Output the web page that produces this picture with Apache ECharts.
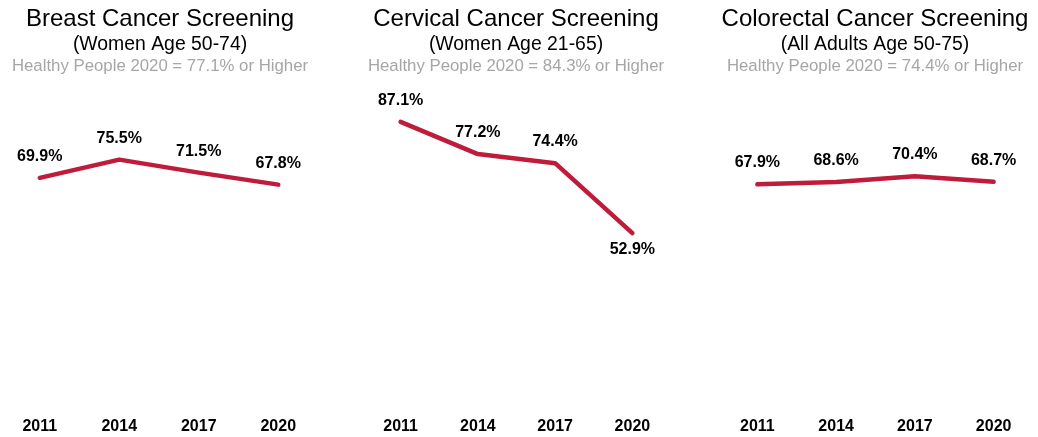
<!DOCTYPE html>
<html>
<head>
<meta charset="utf-8">
<script src="https://cdn.jsdelivr.net/npm/echarts@6/dist/echarts.min.js"></script>
<style>
  html, body { margin: 0; padding: 0; background: #fff; }
  #chart { width: 1038px; height: 437px; }
</style>
</head>
<body>
<div id="chart"></div>
<script>
// Survey years shared by all three panels
const years = ['2011', '2014', '2017', '2020'];

// Screening rates (%) per year
const breast = [69.9, 75.5, 71.5, 67.8];
const cervical = [87.1, 77.2, 74.4, 52.9];
const colorectal = [67.9, 68.6, 70.4, 68.7];

const titles = ['Breast Cancer Screening', 'Cervical Cancer Screening', 'Colorectal Cancer Screening'];
const subtitles = ['(Women Age 50-74)', '(Women Age 21-65)', '(All Adults Age 50-75)'];
const targets = ['Healthy People 2020 = 77.1% or Higher', 'Healthy People 2020 = 84.3% or Higher', 'Healthy People 2020 = 74.4% or Higher'];

const seriesData = [breast, cervical, colorectal];
// label placement per point: above, except the last cervical value sits below
const labelPos = [
  ['top', 'top', 'top', 'top'],
  ['top', 'top', 'top', 'bottom'],
  ['top', 'top', 'top', 'top']
];

const panels = [
  { left: 0, width: 318, center: 160 },
  { left: 362, width: 309, center: 516 },
  { left: 718, width: 315, center: 875 }
];

const RED = '#BF1B3B';
const labelFont = '"Liberation Sans Narrow", "Arial Narrow", "Liberation Sans", Arial, sans-serif';
const textFont = '"Liberation Sans", Arial, sans-serif';

const title = [];
panels.forEach((p, i) => {
  title.push({ text: titles[i], left: p.center, top: 7, padding: 0, textAlign: 'center',
    textStyle: { fontFamily: textFont, fontSize: 24, fontWeight: 'normal', color: '#000' } });
  title.push({ text: subtitles[i], left: p.center, top: 35, padding: 0, textAlign: 'center',
    textStyle: { fontFamily: textFont, fontSize: 19.4, fontWeight: 'normal', color: '#000' } });
  title.push({ text: targets[i], left: p.center, top: 58, padding: 0, textAlign: 'center',
    textStyle: { fontFamily: textFont, fontSize: 16.8, fontWeight: 'normal', color: '#A6A6A6' } });
});

const option = {
  animation: false,
  backgroundColor: '#fff',
  title: title,
  grid: panels.map(p => ({ left: p.left, width: p.width, top: 80, height: 325 })),
  xAxis: panels.map((p, i) => ({
    type: 'category', gridIndex: i, data: years, boundaryGap: true,
    axisLine: { show: false }, axisTick: { show: false }, splitLine: { show: false },
    axisLabel: { margin: 14, fontFamily: labelFont, fontWeight: 'bold', fontSize: 16, color: '#000' }
  })),
  yAxis: panels.map((p, i) => ({
    type: 'value', gridIndex: i, min: 0, max: 100, show: false, splitLine: { show: false }
  })),
  series: seriesData.map((d, i) => ({
    type: 'line', xAxisIndex: i, yAxisIndex: i,
    data: d.map((v, j) => ({
      value: v,
      label: { position: labelPos[i][j], distance: labelPos[i][j] === 'top' ? 13 : 8 }
    })),
    symbol: 'circle', symbolSize: 1, showSymbol: true,
    itemStyle: { color: 'rgba(0,0,0,0)', borderWidth: 0 },
    lineStyle: { color: RED, width: 4.5, cap: 'round', join: 'round' },
    label: {
      show: true,
      formatter: p => p.value.toFixed(1) + '%',
      fontFamily: labelFont, fontWeight: 'bold', fontSize: 16, color: '#000'
    }
  }))
};

const chart = echarts.init(document.getElementById('chart'), null, { renderer: 'canvas' });
chart.setOption(option);
</script>
</body>
</html>
